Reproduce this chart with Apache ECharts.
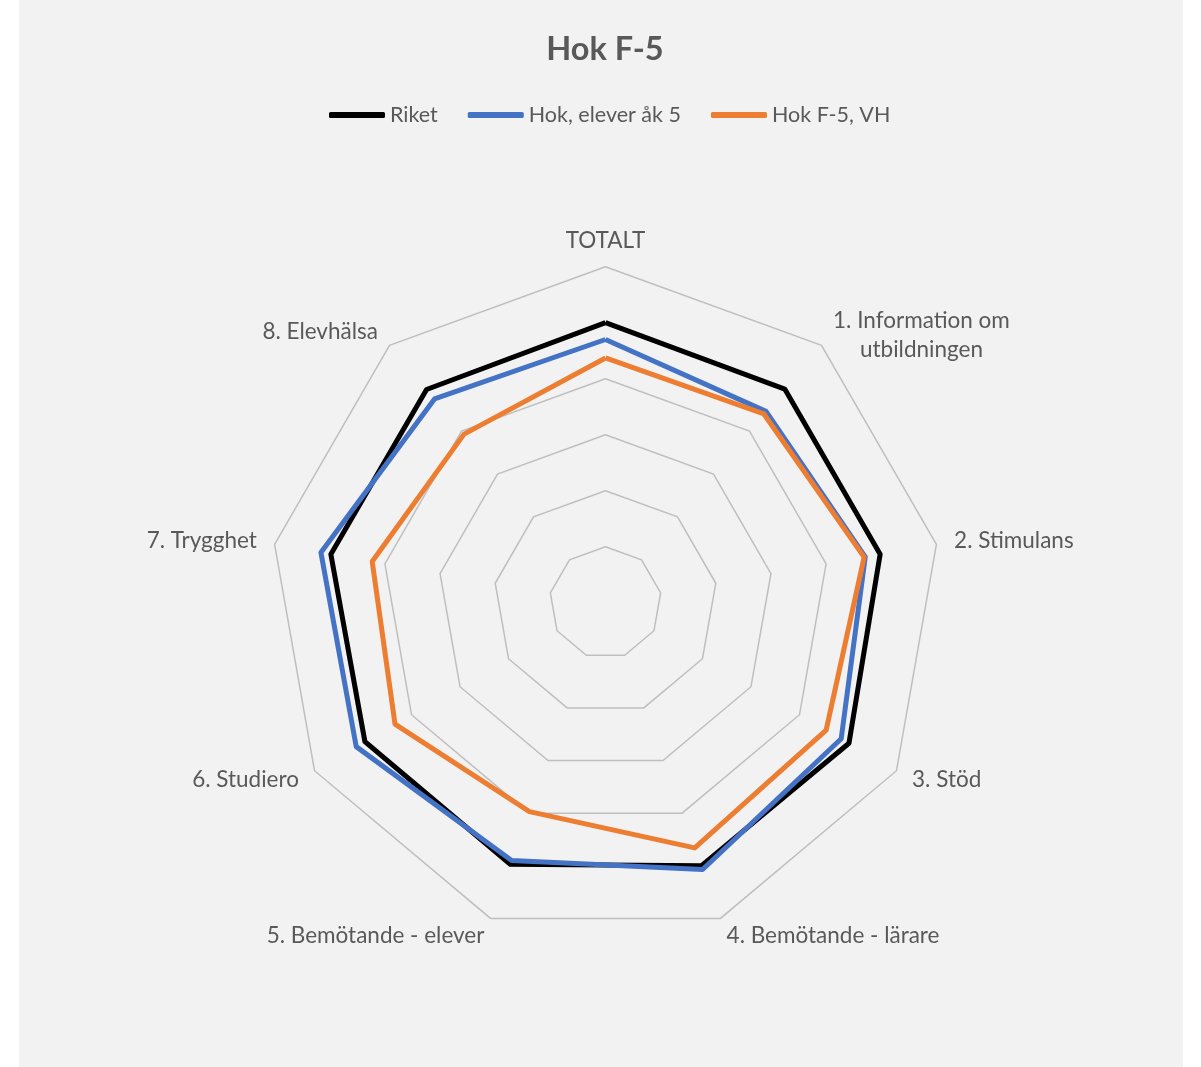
<!DOCTYPE html>
<html>
<head>
<meta charset="utf-8">
<script src="https://cdn.jsdelivr.net/npm/echarts@6/dist/echarts.min.js"></script>
<style>
  html, body { margin: 0; padding: 0; background: #ffffff; }
  #chart { position: absolute; left: 19px; top: 0px; width: 1164px; height: 1067px; }
</style>
</head>
<body>
<div id="chart"></div>
<script>
// ---- Data ----
const title = 'Hok F-5';
const categories = [
  'TOTALT',
  '1. Information om\nutbildningen',
  '2. Stimulans',
  '3. Stöd',
  '4. Bemötande - lärare',
  '5. Bemötande - elever',
  '6. Studiero',
  '7. Trygghet',
  '8. Elevhälsa'
];
const seriesNames = ['Riket', 'Hok, elever åk 5', 'Hok F-5, VH'];
const riket = [9.00, 8.98, 8.98, 9.02, 9.00, 8.97, 8.96, 8.98, 8.97];
const hokElever = [8.70, 8.46, 8.71, 8.86, 9.07, 8.90, 9.14, 9.16, 8.75];
const hokVH = [8.37, 8.40, 8.69, 8.55, 8.66, 7.97, 8.34, 8.23, 7.93];
const scaleMin = 4;
const scaleMax = 10;
const colors = ['#000000', '#4472C4', '#ED7D31'];

// ECharts radar goes counter-clockwise; reorder so axes run clockwise
const order = [0].concat(categories.slice(1).map((_, i) => categories.length - 1 - i));
const reorder = arr => order.map(i => arr[i]);

const FONT = 'Lato, "Open Sans", sans-serif';
const NAME_SIZE = 22.5;
const chart = echarts.init(document.getElementById('chart'));
const option = {
  backgroundColor: '#F2F2F2',
  textStyle: { fontFamily: FONT },
  title: {
    text: title,
    left: 581,
    textAlign: 'center',
    top: 28,
    textStyle: { fontFamily: FONT, fontSize: 32.5, fontWeight: 'bold', color: '#595959' }
  },
  legend: {
    data: seriesNames,
    left: 305,
    top: 99,
    icon: 'roundRect',
    itemWidth: 56,
    itemHeight: 6,
    itemGap: 30,
    textStyle: { fontFamily: FONT, fontSize: 21.5, color: '#595959' }
  },
  radar: {
    center: [586.5, 602.7],
    radius: 336,
    startAngle: 90,
    shape: 'polygon',
    splitNumber: 6,
    axisName: {
      color: '#595959',
      fontFamily: FONT,
      fontSize: NAME_SIZE,
      verticalAlign: 'middle',
      formatter: function (name) {
        if (name === 'TOTALT') return '{top|' + name + '}';
        if (name.indexOf('\n') >= 0) return '{c|' + name + '}';
        return name;
      },
      rich: {
        top: { fontFamily: FONT, fontSize: NAME_SIZE, color: '#595959', padding: [0, 0, 16, 0] },
        c: { fontFamily: FONT, fontSize: NAME_SIZE, color: '#595959', align: 'center', lineHeight: 29, padding: [8, 0, 0, 0] }
      }
    },
    nameGap: 18,
    indicator: reorder(categories).map(n => ({ name: n, min: scaleMin, max: scaleMax })),
    axisLine: { show: false },
    axisTick: { show: false },
    axisLabel: { show: false },
    splitArea: { show: false },
    splitLine: { lineStyle: { color: '#BFBFBF', width: 1.5 } }
  },
  series: [{
    type: 'radar',
    symbol: 'none',
    data: [
      { name: seriesNames[0], value: reorder(riket), lineStyle: { color: colors[0], width: 5 }, itemStyle: { color: colors[0] } },
      { name: seriesNames[1], value: reorder(hokElever), lineStyle: { color: colors[1], width: 5 }, itemStyle: { color: colors[1] } },
      { name: seriesNames[2], value: reorder(hokVH), lineStyle: { color: colors[2], width: 5 }, itemStyle: { color: colors[2] } }
    ]
  }]
};
chart.setOption(option);
</script>
</body>
</html>
